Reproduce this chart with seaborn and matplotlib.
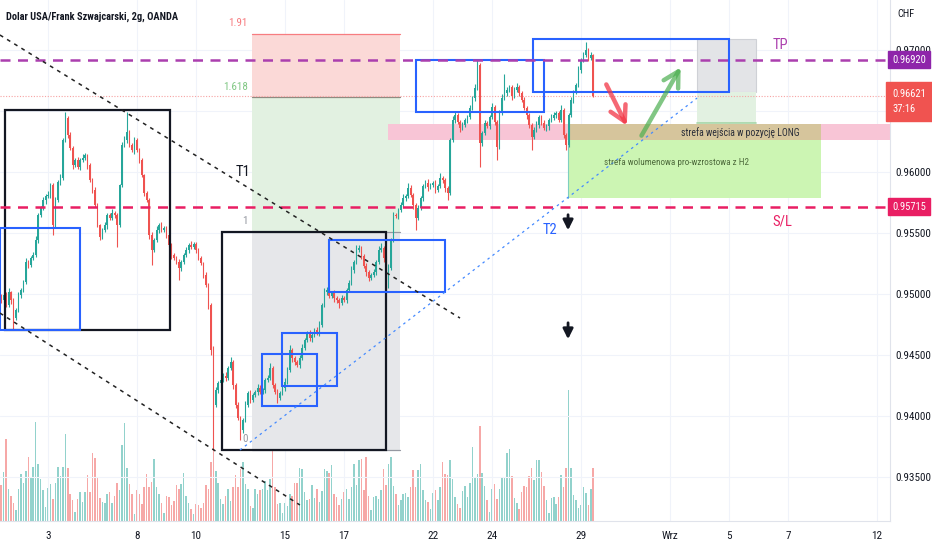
import numpy as np
import pandas as pd
import matplotlib
matplotlib.use("Agg")
import matplotlib.pyplot as plt
import matplotlib.patches as mpatches
import seaborn as sns

# USD/CHF, 2h candles (OANDA). Prices in points = 0.00001 CHF.
PT = 1e-5
first_bar = -19          # bar index of first candle (bar 0 = first bar of Aug 3)
first_open = 94980

close_pts = [
    94950, 94991, 94909, 95016, 94950, 94802, 94868, 94991, 95032, 95098,
    95262, 95237, 95294, 95319, 95442, 95647, 95704, 95770, 95803, 95811,
    95893, 95565, 95770, 95918, 95950, 96262, 96442, 96303, 96196, 96057,
    96098, 96041, 96098, 96114, 96139, 96057, 95934, 95852, 95729, 95565,
    95467, 95524, 95565, 95647, 95622, 95663, 95647, 95565, 95893, 96221,
    96262, 96328, 96221, 96180, 96262, 96180, 96098, 95975, 95827, 95770,
    95483, 95360, 95442, 95524, 95565, 95524, 95540, 95483, 95401, 95319,
    95294, 95262, 95212, 95262, 95319, 95360, 95401, 95385, 95409, 95360,
    95294, 95253, 95155, 95073, 94909, 94540, 94089, 94212, 94269, 94294,
    94327, 94310, 94392, 94441, 94253, 94089, 93982, 93884, 93966, 94089,
    94187, 94130, 94171, 94196, 94228, 94196, 94212, 94294, 94310, 94392,
    94253, 94196, 94146, 94187, 94228, 94278, 94376, 94540, 94474, 94441,
    94417, 94474, 94556, 94622, 94679, 94638, 94663, 94704, 94679, 94745,
    94909, 95016, 95032, 94983, 95007, 94966, 94950, 94925, 94966, 94950,
    95032, 95089, 95196, 95262, 95360, 95376, 95311, 95229, 95180, 95130,
    95155, 95180, 95262, 95360, 95376, 95294, 95073, 95212, 95442, 95647,
    95639, 95688, 95729, 95786, 95803, 95868, 95811, 95729, 95622, 95704,
    95786, 95885, 95909, 95877, 95893, 95909, 95852, 95885, 95950, 95934,
    95868, 95827, 96262, 96426, 96467, 96410, 96360, 96385, 96426, 96451,
    96524, 96606, 96688, 96877, 96237, 96319, 96401, 96377, 96451, 96533,
    96410, 96205, 96483, 96606, 96647, 96672, 96697, 96623, 96672, 96697,
    96647, 96590, 96524, 96467, 96385, 96287, 96344, 96385, 96451, 96401,
    96360, 96377, 96426, 96442, 96467, 96483, 96426, 96508, 96303, 96221,
    96467, 96590, 96656, 96713, 96836, 96918, 96959, 97000, 96934, 96959, 96621,
]

# upper / lower shadow length of each candle, points
wick_up = [
    20, 15, 25, 30, 10, 15, 20, 25, 15, 20,
    30, 15, 20, 25, 35, 20, 15, 25, 20, 30,
    20, 15, 25, 20, 30, 15, 50, 20, 25, 15,
    20, 25, 15, 30, 20, 10, 15, 20, 25, 15,
    10, 20, 25, 15, 20, 30, 15, 20, 10, 25,
    30, 165, 20, 15, 25, 20, 15, 20, 10, 15,
    20, 25, 15, 30, 20, 25, 15, 20, 10, 15,
    20, 15, 25, 20, 15, 25, 20, 30, 15, 20,
    15, 20, 10, 25, 15, 20, 30, 25, 20, 15,
    25, 30, 20, 40, 15, 20, 25, 15, 20, 30,
    20, 25, 15, 20, 30, 25, 15, 20, 25, 40,
    15, 20, 25, 15, 20, 30, 25, 40, 20, 15,
    20, 25, 30, 20, 15, 25, 20, 15, 25, 30,
    20, 35, 25, 15, 20, 25, 15, 20, 25, 15,
    20, 25, 30, 20, 40, 25, 15, 20, 25, 15,
    20, 25, 15, 30, 40, 20, 15, 30, 20, 25,
    15, 20, 25, 30, 20, 40, 25, 15, 20, 25,
    20, 15, 25, 30, 20, 15, 25, 20, 40, 15,
    20, 15, 20, 30, 25, 15, 20, 25, 15, 20,
    25, 20, 30, 40, 15, 20, 25, 15, 20, 30,
    20, 15, 25, 30, 160, 25, 20, 15, 25, 30,
    20, 15, 25, 20, 15, 20, 25, 30, 15, 20,
    25, 15, 20, 30, 25, 20, 15, 40, 20, 15,
    20, 25, 15, 20, 30, 20, 25, 65, 20, 25, 10,
]
wick_dn = [
    25, 20, 15, 20, 30, 100, 20, 15, 25, 20,
    15, 25, 20, 15, 20, 25, 15, 20, 30, 15,
    25, 80, 20, 15, 25, 20, 15, 25, 20, 30,
    15, 20, 25, 15, 20, 30, 20, 25, 15, 20,
    25, 15, 20, 30, 15, 20, 25, 180, 20, 15,
    20, 25, 15, 20, 30, 15, 25, 20, 25, 20,
    30, 120, 20, 15, 25, 20, 15, 25, 20, 30,
    15, 20, 100, 25, 15, 20, 25, 15, 20, 25,
    20, 15, 25, 20, 30, 40, 370, 20, 25, 15,
    20, 25, 15, 20, 30, 25, 20, 80, 25, 15,
    20, 25, 15, 20, 25, 15, 20, 25, 15, 20,
    25, 20, 40, 15, 20, 25, 20, 15, 30, 20,
    15, 25, 20, 15, 20, 25, 30, 20, 15, 25,
    20, 15, 25, 20, 15, 30, 25, 40, 20, 15,
    25, 20, 15, 25, 20, 15, 25, 20, 30, 25,
    15, 20, 25, 20, 15, 30, 40, 25, 20, 15,
    20, 25, 15, 20, 25, 15, 20, 30, 100, 20,
    15, 25, 20, 30, 15, 20, 25, 15, 20, 25,
    30, 55, 15, 20, 25, 15, 30, 20, 15, 25,
    20, 15, 25, 20, 200, 25, 15, 20, 25, 15,
    25, 105, 20, 15, 20, 25, 15, 30, 20, 15,
    25, 20, 15, 30, 25, 105, 20, 15, 25, 20,
    15, 25, 30, 20, 15, 25, 20, 15, 25, 40,
    15, 20, 25, 15, 20, 25, 15, 20, 25, 15, 10,
]

# tick volume (hundreds)
volume = [
    36, 49, 82, 32, 25, 18, 11, 32, 47, 38,
    50, 64, 44, 54, 99, 57, 42, 31, 14, 33,
    37, 22, 38, 54, 45, 54, 87, 53, 27, 21,
    9, 22, 29, 19, 29, 46, 29, 68, 63, 43,
    23, 19, 18, 27, 29, 18, 25, 38, 31, 76,
    98, 53, 37, 27, 7, 31, 27, 17, 34, 47,
    34, 39, 62, 34, 27, 18, 8, 25, 24, 16,
    20, 36, 32, 37, 48, 25, 18, 12, 7, 17,
    16, 13, 18, 36, 32, 59, 95, 50, 38, 22,
    17, 25, 32, 20, 34, 46, 34, 52, 59, 37,
    32, 15, 13, 32, 27, 31, 32, 40, 31, 42,
    78, 34, 17, 18, 8, 18, 15, 27, 25, 38,
    38, 53,
    52, 29, 21, 22, 36, 23, 32, 19, 30, 52,
    50, 48, 56, 27, 24, 16, 22, 29, 32, 22,
    34, 57, 36, 61, 62, 31, 64, 25, 11, 24,
    25, 22, 31, 52, 36, 57, 64, 35, 27, 16,
    21, 27, 28, 24, 34, 51, 34, 51, 57, 31,
    21, 19, 12, 28, 31, 21, 34, 59, 47, 46,
    61, 42, 24, 17, 13, 30, 35, 24, 38, 74,
    44, 47, 95, 48, 35, 21, 9, 32, 37, 22,
    32, 44, 44, 68, 72, 45, 23, 18, 12, 29,
    35, 34, 45, 53, 41, 61, 61, 49, 35, 21,
    8, 23, 24, 17, 24, 46, 34, 53, 131, 53,
    26, 21, 13, 16, 34, 28, 16, 32, 53,
]

day_ticks = [0, 36, 60, 96, 120, 156, 180, 216, 252, 276, 300, 336]
day_labels = ["3", "8", "10", "15", "17", "22", "24", "29", "Wrz", "5", "7", "12"]
price_ticks = [0.935, 0.940, 0.945, 0.950, 0.955, 0.960, 0.965, 0.970]
hidden_tick = 0.965      # label covered by the last-price tag

tp_price = 0.96920
sl_price = 0.95715
last_price = 0.96621
countdown = "37:16"

# fibonacci extension: bar span, level 0 and level 1 prices
fib_bars = [82.7, 142.7]
fib_p0, fib_p1 = 0.93720, 0.95508
fib_levels = [0, 1, 1.618, 1.91]

# rectangles: bar from, bar to, price low, price high
black_boxes = [(-17.4, 49.5, 0.94704, 0.96508), (70.5, 137.0, 0.93720, 0.95508)]
blue_boxes = [
    (-19.5, 13.0, 0.94704, 0.95540),
    (86.7, 109.0, 0.94081, 0.94507),
    (94.9, 117.1, 0.94245, 0.94680),
    (113.9, 160.9, 0.95016, 0.95442),
    (149.2, 201.0, 0.96492, 0.96918),
    (196.6, 276.0, 0.96656, 0.97090),
]
entry_zone = (137.8, 341.3, 0.96262, 0.96393)
volume_zone = (210.8, 313.3, 0.95786, 0.96262)
overlap_zone = (210.8, 313.3, 0.96262, 0.96393)
target_grey = (263.1, 287.0, 0.96656, 0.97090)
target_green = (263.1, 287.0, 0.96401, 0.96656)

# trend lines: (bars, prices)
t1_line = ([-19.5, 167.0], [0.97123, 0.94802])
low_line = ([-19.5, 102.1], [0.94843, 0.93269])
t2_line = ([77.8, 263.1], [0.93720, 0.96606])

GREEN = "#26a69a"
RED = "#ef5350"
FONTS = ["Roboto Condensed", "Liberation Sans Narrow", "Liberation Sans", "DejaVu Sans"]

sns.set_theme(style="white")
plt.rcParams["font.family"] = FONTS

df = pd.DataFrame({"close": np.array(close_pts) * PT})
df["bar"] = np.arange(first_bar, first_bar + len(df))
df["open"] = np.r_[first_open, close_pts[:-1]] * PT
df["high"] = df[["open", "close"]].max(axis=1) + np.array(wick_up) * PT
df["low"] = df[["open", "close"]].min(axis=1) - np.array(wick_dn) * PT
df["volume"] = volume
df["color"] = np.where(df["close"] >= df["open"], GREEN, RED)

fig = plt.figure(figsize=(9.32, 5.5), dpi=100)
ax = fig.add_axes([0, 29 / 550, 890 / 932, 521 / 550])
axv = ax.twinx()
ax.set_zorder(axv.get_zorder() + 1)
ax.patch.set_visible(False)

ax.set_xlim(-19.46, 341.3)
ax.set_ylim(0.931378, 0.97410)

# volume
axv.bar(df["bar"], df["volume"], width=0.62, color=df["color"], alpha=0.5, linewidth=0)
axv.set_ylim(0, 521)
axv.axis("off")


def rect(box, **kw):
    b0, b1, p0, p1 = box
    ax.add_patch(mpatches.Rectangle((b0, p0), b1 - b0, p1 - p0, **kw))


# fib fills
fib_prices = [fib_p0 + lv * (fib_p1 - fib_p0) for lv in fib_levels]
fib_fill = ["#e6e7ea", "#e2f1e1", "#fbd9d7"]
for i, fc in enumerate(fib_fill):
    rect((fib_bars[0], fib_bars[1], fib_prices[i], fib_prices[i + 1]),
         facecolor=fc, edgecolor="none", zorder=1)
fib_line_col = ["#9598a1", "#9598a1", "#8d8a80", "#f77c80"]
fib_text_col = ["#9598a1", "#9598a1", "#81c784", "#f77c80"]
for lv, p, lc, tc in zip(fib_levels, fib_prices, fib_line_col, fib_text_col):
    ax.plot(fib_bars, [p, p], color=lc, lw=0.9, zorder=1.5)
    ax.annotate(f"{lv:g}", xy=(fib_bars[0], p), xytext=(-3, 4), textcoords="offset points",
                ha="right", va="bottom", color=tc, fontsize=8)

# zones
rect(entry_zone, facecolor="#f8c5d6", edgecolor="none", zorder=1)
rect(volume_zone, facecolor="#ccf5b3", edgecolor="none", zorder=1.2)
rect(overlap_zone, facecolor="#d6c59c", edgecolor="none", zorder=1.2)
rect(target_grey, facecolor="#e3e4e7", edgecolor="#cfd1d6", lw=0.8, zorder=1.1)
rect(target_green, facecolor="#e2f1e1", edgecolor="none", zorder=1.1)
ax.plot([target_green[0], target_green[1]], [target_green[2]] * 2, color="#a5d6a7", lw=1.2, zorder=1.3)
ax.plot([volume_zone[0], volume_zone[0]], [volume_zone[2], volume_zone[3]], color="#7fcfc0", lw=0.8, zorder=1.3)

# grid
for p in price_ticks:
    ax.axhline(p, color="#f0f3fa", lw=0.8, zorder=0.5)
for b in day_ticks:
    ax.axvline(b, color="#f0f3fa", lw=0.8, zorder=0.5)

# candles
ax.vlines(df["bar"], df["low"], df["high"], colors=df["color"], lw=0.8, zorder=3)
body = np.maximum((df["close"] - df["open"]).abs(), 2 * PT)
ax.bar(df["bar"], body, bottom=df[["open", "close"]].min(axis=1), width=0.62,
       color=df["color"], linewidth=0, zorder=3)

# boxes
for box in black_boxes:
    rect(box, facecolor="none", edgecolor="#131722", lw=1.6, zorder=4)
for box in blue_boxes:
    rect(box, facecolor="none", edgecolor="#2962ff", lw=1.5, zorder=4)

# horizontal levels
sns.lineplot(x=[-19.5, 341.3], y=[tp_price, tp_price], ax=ax, color="#ab3fae",
             lw=1.8, linestyle=(0, (4, 3)), zorder=5)
sns.lineplot(x=[-19.5, 341.3], y=[sl_price, sl_price], ax=ax, color="#e91e63",
             lw=1.8, linestyle=(0, (4, 3)), zorder=5)
sns.lineplot(x=[-19.5, 341.3], y=[last_price, last_price], ax=ax, color="#f7a3a3",
             lw=0.8, linestyle=(0, (1, 1.5)), zorder=2)

# trend lines
sns.lineplot(x=t1_line[0], y=t1_line[1], ax=ax, color="#222222", lw=1.1,
             linestyle=(0, (2.5, 3)), sort=False, zorder=5)
sns.lineplot(x=low_line[0], y=low_line[1], ax=ax, color="#222222", lw=1.1,
             linestyle=(0, (2.5, 3)), sort=False, zorder=5)
sns.lineplot(x=t2_line[0], y=t2_line[1], ax=ax, color="#448aff", lw=0.9,
             linestyle=(0, (2, 3)), sort=False, zorder=5)

# arrows
ax.annotate("", xy=(235.1, 0.96360), xytext=(225.8, 0.96738),
            arrowprops=dict(arrowstyle="->,head_length=0.9,head_width=0.5", color="#f23645",
                            lw=3.2, alpha=0.75), zorder=6)
ax.annotate("", xy=(257.0, 0.96877), xytext=(240.0, 0.96278),
            arrowprops=dict(arrowstyle="->,head_length=0.9,head_width=0.5", color="#4caf50",
                            lw=3.2, alpha=0.7), zorder=6)
for p_from, p_to in [(0.95672, 0.95499), (0.94786, 0.94606)]:
    ax.annotate("", xy=(210.8, p_to), xytext=(210.8, p_from),
                arrowprops=dict(arrowstyle="-|>,head_length=0.5,head_width=0.25",
                                color="#131722", lw=2), zorder=6)

# labels
ax.text(79.0, 0.9600, "T1", color="#131722", fontsize=10.5, ha="center", va="center", zorder=6)
ax.text(203.5, 0.95524, "T2", color="#2962ff", fontsize=10.5, ha="center", va="center", zorder=6)
ax.text(296.7, 0.97041, "TP", color="#ab3fae", fontsize=10.5, ha="center", va="center", zorder=6)
ax.text(297.5, 0.95590, "S/L", color="#e91e63", fontsize=10.5, ha="center", va="center", zorder=6)
ax.text(280.5, 0.96327, "strefa wejścia w pozycję LONG", color="#2a2e39", fontsize=7,
        ha="center", va="center", zorder=6)
ax.text(225.5, 0.96080, "strefa wolumenowa pro-wzrostowa z H2", color="#4e6b3c", fontsize=6.6,
        ha="left", va="center", zorder=6)

# axes styling
ax.yaxis.tick_right()
ax.set_yticks(price_ticks)
ax.set_yticklabels(["" if p == hidden_tick else f"{p:.5f}" for p in price_ticks])
ax.set_xticks(day_ticks)
ax.set_xticklabels(day_labels)
ax.tick_params(axis="y", length=0, pad=4, labelsize=8, labelcolor="#131722")
ax.tick_params(axis="x", length=0, pad=7, labelsize=8, labelcolor="#131722")
for side in ["left", "top"]:
    ax.spines[side].set_visible(False)
for side in ["right", "bottom"]:
    ax.spines[side].set_color("#e0e3eb")
    ax.spines[side].set_linewidth(0.8)
ax.grid(False)


def tag(price, text, color, dy=0, va="center", pad=0.35):
    ax.annotate(text, xy=(1, price), xycoords=ax.get_yaxis_transform(), xytext=(1.5, dy),
                textcoords="offset points", ha="left", va=va, color="white", fontsize=7.6,
                linespacing=1.7, bbox=dict(boxstyle=f"square,pad={pad}", fc=color, ec=color),
                annotation_clip=False, zorder=10)


tag(tp_price, f"{tp_price:.5f}", "#8e24aa")
tag(last_price, f"{last_price:.5f}\n{countdown}", "#f05350", dy=5.5, va="top", pad=0.6)
tag(sl_price, f"{sl_price:.5f}", "#e91e63")

fig.text(6 / 932, 1 - 17 / 550, "Dolar USA/Frank Szwajcarski, 2g, OANDA", fontsize=7.5,
         fontweight="bold", color="#131722", va="center", ha="left")
fig.text(897 / 932, 1 - 14 / 550, "CHF", fontsize=7.5, color="#131722", va="center", ha="left")

fig.savefig("out.png", dpi=100)
